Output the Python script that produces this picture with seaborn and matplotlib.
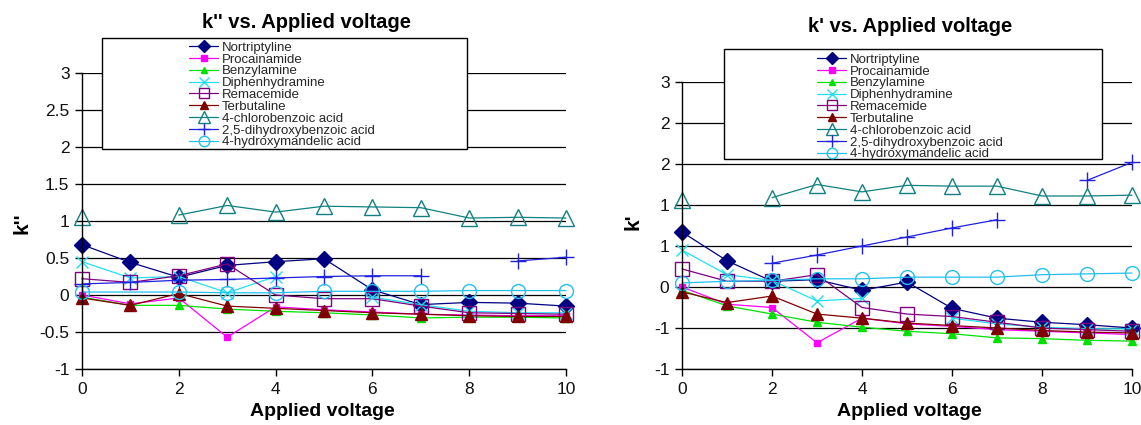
import numpy as np
import pandas as pd
import seaborn as sns
import matplotlib
matplotlib.use('Agg')
import matplotlib.pyplot as plt
from matplotlib.lines import Line2D
from matplotlib.patches import Rectangle

sns.set_theme(style='white')
plt.rcParams['font.family'] = ['Liberation Sans', 'DejaVu Sans']

nan = np.nan
voltage = [0, 1, 2, 3, 4, 5, 6, 7, 8, 9, 10]
compounds = ['Nortriptyline', 'Procainamide', 'Benzylamine', 'Diphenhydramine',
             'Remacemide', 'Terbutaline', '4-chlorobenzoic acid',
             '2,5-dihydroxybenzoic acid', '4-hydroxymandelic acid']

# k'' (left panel)
kpp_nortriptyline = [0.68, 0.44, 0.24, 0.40, 0.45, 0.49, 0.07, -0.13, -0.10, -0.11, -0.15]
kpp_procainamide = [0.0, -0.12, -0.04, -0.57, -0.16, -0.20, -0.23, -0.26, -0.27, -0.28, -0.28]
kpp_benzylamine = [-0.03, -0.14, -0.14, -0.19, -0.22, -0.24, -0.27, -0.31, -0.30, -0.30, -0.31]
kpp_diphenhydramine = [0.45, 0.23, 0.25, 0.03, 0.25, nan, -0.03, -0.13, -0.22, -0.24, -0.24]
kpp_remacemide = [0.22, 0.17, 0.26, 0.42, 0.0, -0.05, -0.05, -0.15, -0.24, -0.25, -0.26]
kpp_terbutaline = [-0.04, -0.14, 0.02, -0.15, -0.18, -0.21, -0.24, -0.26, -0.28, -0.29, -0.29]
kpp_chlorobenzoic = [1.06, nan, 1.08, 1.21, 1.12, 1.20, 1.19, 1.18, 1.04, 1.05, 1.04]
kpp_dihydroxybenzoic = [0.15, 0.17, 0.20, 0.21, 0.23, 0.25, 0.26, 0.26, nan, 0.46, 0.51]
kpp_hydroxymandelic = [0.04, nan, 0.04, 0.03, 0.03, 0.05, 0.05, 0.05, 0.06, 0.06, 0.06]

# k' (right panel)
kp_nortriptyline = [0.67, 0.32, 0.07, 0.09, -0.04, 0.06, -0.26, -0.38, -0.43, -0.46, -0.50]
kp_procainamide = [0.0, -0.21, -0.25, -0.68, -0.38, -0.45, -0.48, -0.52, -0.54, -0.56, -0.58]
kp_benzylamine = [-0.04, -0.23, -0.33, -0.43, -0.49, -0.54, -0.57, -0.62, -0.63, -0.65, -0.66]
kp_diphenhydramine = [0.45, 0.15, 0.08, -0.17, -0.14, nan, -0.38, -0.45, -0.49, -0.51, -0.51]
kp_remacemide = [0.22, 0.07, 0.07, 0.15, -0.25, -0.33, -0.36, -0.43, -0.50, -0.52, -0.54]
kp_terbutaline = [-0.06, -0.19, -0.11, -0.33, -0.38, -0.44, -0.47, -0.50, -0.53, -0.55, -0.56]
kp_chlorobenzoic = [1.06, nan, 1.09, 1.25, 1.16, 1.24, 1.23, 1.23, 1.11, 1.11, 1.12]
kp_dihydroxybenzoic = [nan, nan, 0.29, 0.39, 0.50, 0.61, 0.72, 0.82, nan, 1.30, 1.52]
kp_hydroxymandelic = [0.05, 0.07, 0.08, 0.10, 0.10, 0.12, 0.12, 0.12, 0.15, 0.16, 0.17]

left_yticks = [-1, -0.5, 0, 0.5, 1, 1.5, 2, 2.5, 3]
left_ytick_labels = ['-1', '-0.5', '0', '0.5', '1', '1.5', '2', '2.5', '3']
right_yticks = [-1, -0.5, 0, 0.5, 1, 1.5, 2, 2.5]
right_ytick_labels = ['-1', '-1', '0', '1', '1', '2', '2', '3']
xticks = [0, 2, 4, 6, 8, 10]

kpp = [kpp_nortriptyline, kpp_procainamide, kpp_benzylamine, kpp_diphenhydramine,
       kpp_remacemide, kpp_terbutaline, kpp_chlorobenzoic, kpp_dihydroxybenzoic,
       kpp_hydroxymandelic]
kp = [kp_nortriptyline, kp_procainamide, kp_benzylamine, kp_diphenhydramine,
      kp_remacemide, kp_terbutaline, kp_chlorobenzoic, kp_dihydroxybenzoic,
      kp_hydroxymandelic]

# colour, marker, size, filled
styles = {
    'Nortriptyline': ('#000080', 'D', 8, True),
    'Procainamide': ('#ff00ff', 's', 5, True),
    'Benzylamine': ('#00e000', '^', 5.5, True),
    'Diphenhydramine': ('#22e0f0', 'x', 9, False),
    'Remacemide': ('#800080', 's', 10, False),
    'Terbutaline': ('#800000', '^', 8.5, True),
    '4-chlorobenzoic acid': ('#108080', '^', 11, False),
    '2,5-dihydroxybenzoic acid': ('#2020e0', '+', 11, False),
    '4-hydroxymandelic acid': ('#22c0f0', 'o', 10, False),
}
bridge = ['4-hydroxymandelic acid']


def style_kws(name):
    c, m, s, filled = styles[name]
    return dict(color=c, marker=m, markersize=s, markeredgecolor=c,
                markerfacecolor=c if filled else 'none', markeredgewidth=1.0,
                linewidth=0.9)


def draw_panel(ax, series):
    for name, vals in zip(compounds, series):
        df = pd.DataFrame({'v': voltage, 'k': vals})
        df['seg'] = 0 if name in bridge else df['k'].isna().cumsum()
        df = df.dropna()
        sns.lineplot(data=df, x='v', y='k', units='seg', estimator=None, sort=False,
                     legend=False, ax=ax, clip_on=False, **style_kws(name))
    ax.set_xlim(0, 10)
    ax.set_xticks(xticks)
    ax.set_xticklabels([str(t) for t in xticks])
    ax.set_xlabel('')
    ax.set_ylabel('')
    ax.yaxis.grid(True, color='black', linewidth=0.9)
    ax.xaxis.grid(False)
    for sp in ['top', 'right']:
        ax.spines[sp].set_visible(False)
    for sp in ['left', 'bottom']:
        ax.spines[sp].set_color('black')
        ax.spines[sp].set_linewidth(1)
    ax.tick_params(left=True, bottom=True, direction='out', length=5, width=1,
                   color='black', labelsize=12.5, pad=4, labelcolor='#111111')


fig = plt.figure(figsize=(11.41, 4.25), dpi=100)
W, H = 1141, 425


def fx(x):
    return x / W


def fy(y):
    return 1 - y / H


ax1 = fig.add_axes([fx(82), fy(369), fx(566) - fx(82), fy(73) - fy(369)])
draw_panel(ax1, kpp)
ax1.set_ylim(-1, 3)
ax1.set_yticks(left_yticks)
ax1.set_yticklabels(left_ytick_labels)

ax2 = fig.add_axes([fx(682), fy(369), fx(1132) - fx(682), fy(82) - fy(369)])
draw_panel(ax2, kp)
ax2.set_ylim(-1, 2.5)
ax2.set_yticks(right_yticks)
ax2.set_yticklabels(right_ytick_labels)

bold = dict(fontweight='bold', color='black', ha='center', va='center')
fig.text(fx(307), fy(23), "k'' vs. Applied voltage", fontsize=14.5, **bold)
fig.text(fx(910), fy(26), "k' vs. Applied voltage", fontsize=14.5, **bold)
fig.text(fx(322), fy(412), 'Applied voltage', fontsize=14, **bold)
fig.text(fx(909), fy(412), 'Applied voltage', fontsize=14, **bold)
fig.text(fx(22), fy(223), "k''", fontsize=15, rotation=90, **bold)
fig.text(fx(633), fy(222), "k'", fontsize=15, rotation=90, **bold)

handles = [Line2D([], [], **style_kws(n)) for n in compounds]

for (x0, y0, x1, y1), (cx, cy) in [((102, 38, 467, 149), (282, 95)),
                                   ((724, 49, 1102, 159), (910, 107))]:
    fig.add_artist(Rectangle((fx(x0), fy(y1)), fx(x1) - fx(x0), fy(y0) - fy(y1),
                             transform=fig.transFigure, facecolor='white',
                             edgecolor='black', linewidth=1, zorder=3))
    leg = fig.legend(handles, compounds, loc='center', bbox_to_anchor=(fx(cx), fy(cy)),
                     frameon=False, fontsize=9.5, labelspacing=-0.03, handlelength=2.2,
                     handletextpad=0.3, borderpad=0, markerscale=0.75)
    leg.set_zorder(4)

fig.savefig('out.png', dpi=100)
